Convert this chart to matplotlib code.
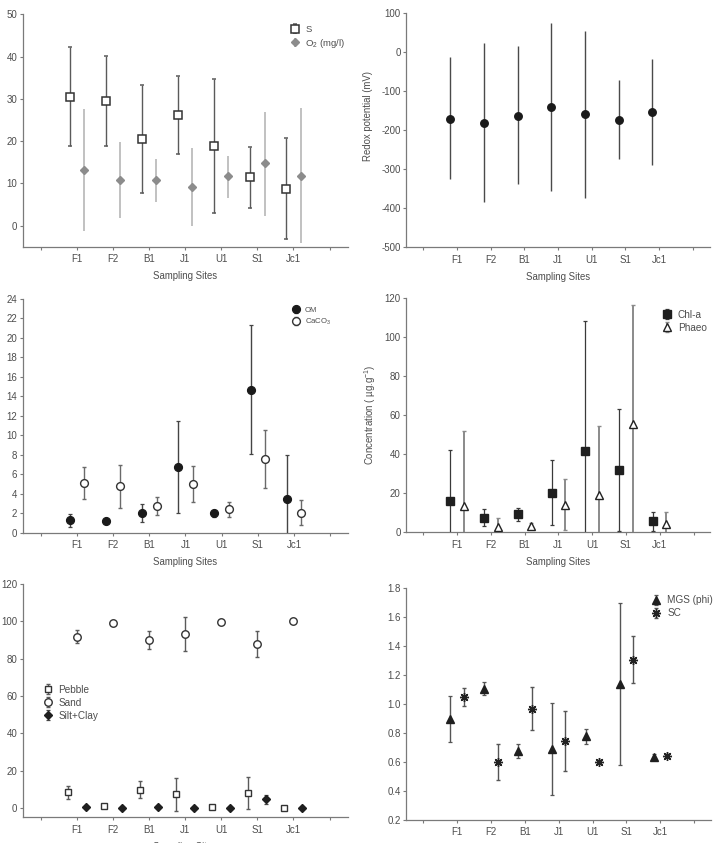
import numpy as np
import matplotlib
matplotlib.use("Agg")
import matplotlib.pyplot as plt

plt.rcParams['font.family'] = ['Liberation Sans', 'DejaVu Sans']
plt.rcParams['mathtext.fontset'] = 'custom'
plt.rcParams['mathtext.rm'] = 'Liberation Sans'
plt.rcParams['mathtext.it'] = 'Liberation Sans:italic'
plt.rcParams['mathtext.default'] = 'regular'
plt.rcParams['axes.unicode_minus'] = False

sites = ['F1', 'F2', 'B1', 'J1', 'U1', 'S1', 'Jc1']

# Panel 1: Salinity and O2
s_mean = [30.5, 29.5, 20.5, 26.3, 18.9, 11.5, 8.8]
s_low = [18.9, 18.9, 7.7, 17.0, 2.9, 4.3, -3.2]
s_up = [42.4, 40.2, 33.4, 35.5, 34.6, 18.6, 20.7]
o2_mean = [13.1, 10.8, 10.7, 9.2, 11.7, 14.8, 11.8]
o2_low = [-1.2, 1.8, 5.5, -0.1, 6.5, 2.4, -4.2]
o2_up = [27.5, 19.8, 15.7, 18.4, 16.5, 26.9, 27.8]

# Panel 2: Redox potential
eh_mean = [-170, -181, -162, -139, -159, -173, -153]
eh_low = [-325, -383, -338, -356, -373, -274, -288]
eh_up = [-13, 25, 16, 76, 54, -71, -18]

# Panel 3: OM and CaCO3
om_mean = [1.3, 1.2, 2.0, 6.75, 2.0, 14.7, 3.5]
om_low = [0.6, 1.1, 1.1, 2.0, 1.65, 8.1, -0.9]
om_up = [1.95, 1.3, 2.95, 11.5, 2.3, 21.3, 7.95]
ca_mean = [5.07, 4.76, 2.74, 5.0, 2.4, 7.53, 2.02]
ca_low = [3.45, 2.57, 1.85, 3.12, 1.61, 4.59, 0.75]
ca_up = [6.7, 7.0, 3.63, 6.88, 3.18, 10.55, 3.36]

# Panel 4: Chl-a and Phaeo
chl_mean = [16.2, 7.3, 9.2, 20.1, 41.6, 31.9, 5.6]
chl_low = [-10.0, 3.2, 6.0, 3.6, -25.0, 0.7, 0.9]
chl_up = [42.2, 11.8, 12.5, 37.0, 108.5, 63.3, 10.6]
ph_mean = [13.5, 2.7, 3.4, 14.2, 19.1, 55.3, 4.1]
ph_low = [-25.0, -1.8, 2.0, 1.2, -16.0, -6.0, -2.4]
ph_up = [51.7, 7.2, 4.8, 27.5, 54.6, 116.4, 10.6]

# Panel 5: Grain fractions
peb_mean = [8.4, 1.25, 9.8, 7.3, 0.5, 7.9, 0.0]
peb_low = [5.0, 0.2, 5.2, -1.4, 0.2, -0.7, -0.2]
peb_up = [12.0, 2.3, 14.5, 16.1, 0.8, 16.4, 0.2]
sand_mean = [91.6, 99.1, 89.8, 93.0, 99.5, 87.7, 100.0]
sand_low = [88.2, 98.1, 85.4, 84.3, 99.0, 80.7, 99.6]
sand_up = [95.2, 100.1, 94.8, 102.1, 100.0, 94.8, 100.4]
sc_mean = [0.4, 0.1, 0.7, 0.1, 0.1, 4.6, 0.1]
sc_low = [0.1, 0.0, 0.3, 0.0, 0.0, 2.3, 0.0]
sc_up = [0.7, 0.2, 1.1, 0.2, 0.2, 7.1, 0.2]

# Panel 6: MGS and SC
mgs_mean = [0.898, 1.105, 0.675, 0.691, 0.776, 1.134, 0.636]
mgs_low = [0.737, 1.061, 0.629, 0.368, 0.723, 0.576, 0.613]
mgs_up = [1.052, 1.150, 0.726, 1.006, 0.824, 1.697, 0.657]
sorting_mean = [1.049, 0.599, 0.967, 0.746, 0.602, 1.300, 0.641]
sorting_low = [0.983, 0.473, 0.822, 0.535, 0.592, 1.144, 0.631]
sorting_up = [1.111, 0.723, 1.114, 0.953, 0.612, 1.465, 0.651]

x = np.arange(1, len(sites) + 1)
TXT = '#4d4d4d'
SPINE = '#7a7a7a'

fig = plt.figure(figsize=(7.14, 8.43), dpi=100)


def style(ax, ylim, yticks, fmt=None):
    ax.set_xlim(-0.5, 8.5)
    ax.set_ylim(*ylim)
    ax.set_xticks(np.arange(0, 9))
    ax.set_xticklabels([''] + sites + [''])
    ax.set_yticks(yticks)
    if fmt:
        ax.set_yticklabels([fmt.format(v) for v in yticks])
    for s in ['top', 'right']:
        ax.spines[s].set_visible(False)
    for s in ['left', 'bottom']:
        ax.spines[s].set_color(SPINE)
        ax.spines[s].set_linewidth(0.9)
    ax.tick_params(axis='both', colors=SPINE, labelcolor=TXT, labelsize=7,
                   length=2.5, width=0.8, direction='out')
    ax.tick_params(axis='x', pad=3)
    ax.tick_params(axis='y', pad=1.5)
    ax.set_xlabel('Sampling Sites', fontsize=6.9, color=TXT, labelpad=5)


def eb(ax, xs, m, lo, up, **kw):
    m = np.asarray(m, float)
    yerr = [m - np.asarray(lo, float), np.asarray(up, float) - m]
    return ax.errorbar(xs, m, yerr=yerr, linestyle='none', **kw)


def leg(ax, handles, labels, anchor, fs):
    ax.legend(handles, labels, loc='upper left', bbox_to_anchor=anchor,
              frameon=False, fontsize=fs, handlelength=1.2, handletextpad=0.5,
              labelspacing=0.3, borderpad=0, borderaxespad=0, labelcolor=TXT)


# ---- Panel 1
ax1 = fig.add_axes([0.0318, 0.7072, 0.455, 0.2757])
h1 = eb(ax1, x - 0.2, s_mean, s_low, s_up, marker='s', ms=5.2, mfc='white',
        mec='#333333', mew=1.1, ecolor='#5a5a5a', elinewidth=1.0, capsize=1.6,
        capthick=0.9, zorder=3)
h2 = eb(ax1, x + 0.2, o2_mean, o2_low, o2_up, marker='D', ms=4.0, mfc='#8c8c8c',
        mec='#8c8c8c', ecolor='#b0b0b0', elinewidth=1.1, capsize=0, zorder=2)
style(ax1, (-5, 50), np.arange(0, 51, 10))
leg(ax1, [h1, h2], ['S', 'O$_2$ (mg/l)'], (0.82, 0.955), 6.8)

# ---- Panel 2
ax2 = fig.add_axes([0.569, 0.7066, 0.425, 0.2776])
eb(ax2, x - 0.2, eh_mean, eh_low, eh_up, marker='o', ms=5.4, mfc='#1a1a1a',
   mec='#1a1a1a', ecolor='#4a4a4a', elinewidth=1.0, capsize=0, zorder=3)
style(ax2, (-500, 100), np.arange(-500, 101, 100))
ax2.set_ylabel('Redox potential (mV)', fontsize=6.9, color=TXT)
ax2.yaxis.set_label_coords(-0.108, 0.56)

# ---- Panel 3
ax3 = fig.add_axes([0.0318, 0.3681, 0.456, 0.2772])
h3 = eb(ax3, x - 0.2, om_mean, om_low, om_up, marker='o', ms=5.6, mfc='#1a1a1a',
        mec='#1a1a1a', ecolor='#444444', elinewidth=1.0, capsize=1.5,
        capthick=0.9, zorder=3)
h4 = eb(ax3, x + 0.2, ca_mean, ca_low, ca_up, marker='o', ms=5.6, mfc='white',
        mec='#333333', mew=1.0, ecolor='#6a6a6a', elinewidth=1.0, capsize=1.5,
        capthick=0.9, zorder=3)
style(ax3, (0, 24), np.arange(0, 25, 2))
ax3.set_ylabel('Content (%)', fontsize=6.9, color=TXT)
ax3.yaxis.set_label_coords(-0.072, 0.5)
leg(ax3, [h3, h4], ['OM', 'CaCO$_3$'], (0.825, 0.967), 5.6)

# ---- Panel 4
ax4 = fig.add_axes([0.569, 0.3686, 0.426, 0.2776])
h5 = eb(ax4, x - 0.2, chl_mean, chl_low, chl_up, marker='s', ms=5.6,
        mfc='#1f1f1f', mec='#1f1f1f', ecolor='#3a3a3a', elinewidth=0.9,
        capsize=1.5, capthick=0.9, zorder=3)
h6 = eb(ax4, x + 0.2, ph_mean, ph_low, ph_up, marker='^', ms=5.6, mfc='white',
        mec='#222222', mew=1.0, ecolor='#8a8a8a', elinewidth=1.4, capsize=1.5,
        capthick=0.9, zorder=3)
style(ax4, (0, 120), np.arange(0, 121, 20))
ax4.set_ylabel('Concentration ( µg.g$^{-1}$)', fontsize=6.9, color=TXT)
ax4.yaxis.set_label_coords(-0.094, 0.5)
leg(ax4, [h5, h6], ['Chl-a', 'Phaeo'], (0.837, 0.95), 7.2)

# ---- Panel 5
ax5 = fig.add_axes([0.0318, 0.0305, 0.455, 0.2768])
h7 = eb(ax5, x - 0.25, peb_mean, peb_low, peb_up, marker='s', ms=5.0,
        mfc='white', mec='#333333', mew=1.0, ecolor='#5a5a5a', elinewidth=1.0,
        capsize=1.5, capthick=0.9, zorder=3)
h8 = eb(ax5, x, sand_mean, sand_low, sand_up, marker='o', ms=5.4, mfc='white',
        mec='#333333', mew=1.0, ecolor='#5a5a5a', elinewidth=1.0, capsize=1.5,
        capthick=0.9, zorder=3)
h9 = eb(ax5, x + 0.25, sc_mean, sc_low, sc_up, marker='D', ms=4.0,
        mfc='#1f1f1f', mec='#1f1f1f', ecolor='#444444', elinewidth=1.0,
        capsize=1.5, capthick=0.9, zorder=3)
style(ax5, (-5, 120), np.arange(0, 121, 20))
leg(ax5, [h7, h8, h9], ['Pebble', 'Sand', 'Silt+Clay'], (0.058, 0.568), 7.2)

# ---- Panel 6
ax6 = fig.add_axes([0.569, 0.0275, 0.427, 0.2752])
h10 = eb(ax6, x - 0.2, mgs_mean, mgs_low, mgs_up, marker='^', ms=5.6,
         mfc='#1f1f1f', mec='#1f1f1f', ecolor='#555555', elinewidth=1.0,
         capsize=1.5, capthick=0.9, zorder=3)
h11 = eb(ax6, x + 0.2, sorting_mean, sorting_low, sorting_up, marker=(8, 2, 0),
         ms=6.5, mfc='#222222', mec='#222222', mew=1.0, ecolor='#555555',
         elinewidth=1.0, capsize=1.5, capthick=0.9, zorder=3)
style(ax6, (0.2, 1.8), np.round(np.arange(0.2, 1.81, 0.2), 1), fmt='{:.1f}')
leg(ax6, [h10, h11], ['MGS (phi)', 'SC'], (0.801, 0.967), 7.2)

fig.savefig('out.png', dpi=100)
